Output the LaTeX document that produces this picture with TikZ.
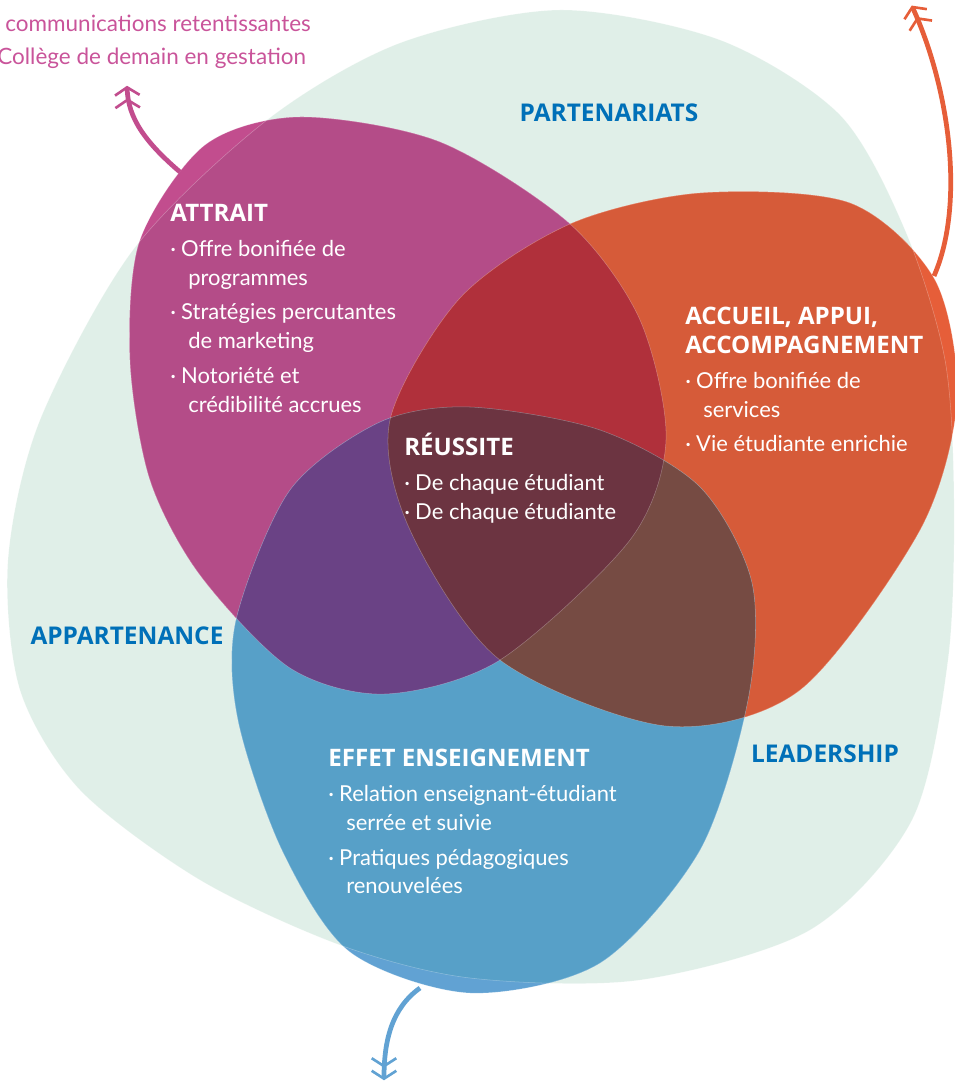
\documentclass[tikz,border=0pt]{standalone}
\usepackage{fontspec}
\setmainfont{Lato}
\newfontfamily\titrefont{Open Sans}
\usepackage{tikz}
\usetikzlibrary{arrows.meta}
\definecolor{fond}{HTML}{E0EFE8}
\definecolor{mag}{HTML}{B44C88}
\definecolor{magV}{HTML}{C24D8E}
\definecolor{ora}{HTML}{D65B39}
\definecolor{oraV}{HTML}{E65E39}
\definecolor{ble}{HTML}{57A0C8}
\definecolor{bleV}{HTML}{61A2D3}
\definecolor{rou}{HTML}{B0303B}
\definecolor{vio}{HTML}{6A4285}
\definecolor{bru}{HTML}{764B43}
\definecolor{cen}{HTML}{6C3441}
\definecolor{bleuaxe}{HTML}{0070B8}
\definecolor{rose}{HTML}{C9549A}
% contours des formes (en pixels, y vers le bas)
\newcommand\fVert{plot[smooth cycle] coordinates {(267,120) (400,43) (560,10) (720,40) (840,115) (905,230) (945,360) (954,500) (948,660) (912,820) (810,930) (640,980) (470,978) (340,945) (200,880) (80,790) (20,690) (8,560) (40,420) (133,250)}}
\newcommand\fAttrait{plot[smooth cycle] coordinates {(300,117) (440,142) (570,224) (640,320) (666,440) (630,540) (500,660) (385,694) (290,668) (200,575) (150,480) (130,360) (140,240) (205,145)}}
\newcommand\fAccueil{plot[smooth cycle] coordinates {(570,224) (700,193) (850,203) (935,280) (957,400) (920,530) (800,690) (666,726) (500,660) (410,530) (390,420) (460,298)}}
\newcommand\fEffet{plot[smooth cycle] coordinates {(470,407) (600,430) (700,487) (752,583) (748,700) (700,850) (600,963) (470,993) (350,952) (282,850) (238,720) (236,620) (290,490) (380,422)}}
\newcommand\titre[1]{{\titrefont\bfseries\fontsize{13.7}{16}\selectfont #1}}
\newcommand\puce{\makebox[6.2pt][l]{·}}
\newcommand\retrait{\hspace*{10.2pt}}
\tikzset{
  bloc/.style = {align=left, inner sep=0pt, anchor=north west, text=white,
    font=\fontsize{12.5}{16.5}\selectfont},% texte blanc dans une forme
  axe/.style = {inner sep=0pt, text=bleuaxe,
    font=\titrefont\bfseries\fontsize{13.9}{15}\selectfont},% axe transversal
  hors/.style = {inner sep=0pt, anchor=west, text=rose,
    font=\fontsize{12.8}{16}\selectfont},% texte hors schema
  contour/.style = {white, opacity=.3, line width=.3pt},% filet clair
  fleche/.style = {>={Straight Barb[length=4.5pt,width=14pt,line width=1.5pt,sep=1pt]},
    ->>, line width=2.7pt}% fleche sortante
}
\begin{document}
\begin{tikzpicture}[x=0.02cm,y=-0.02cm]
    \useasboundingbox (0,0) rectangle (954,1087);
    \fill[fond] \fVert;
    % formes, plus vives hors du fond
    \fill[magV] \fAttrait;
    \fill[oraV] \fAccueil;
    \fill[bleV] \fEffet;
    \begin{scope}
        \clip \fVert;
        \fill[mag] \fAttrait;
        \fill[ora] \fAccueil;
        \fill[ble] \fEffet;
    \end{scope}
    % intersections
    \begin{scope}
        \clip \fAttrait;
        \fill[rou] \fAccueil;
        \fill[vio] \fEffet;
    \end{scope}
    \begin{scope}
        \clip \fAccueil;
        \fill[bru] \fEffet;
        \clip \fAttrait;
        \fill[cen] \fEffet;
    \end{scope}
    \draw[contour] \fVert;
    \draw[contour] \fAttrait;
    \draw[contour] \fAccueil;
    \draw[contour] \fEffet;
    % fleches
    \coordinate (m_dep) at (180,172);
    \coordinate (m_fin) at (127,84);
    \coordinate (o_dep) at (934,276);
    \coordinate (o_fin) at (911,4);
    \coordinate (b_dep) at (420,988);
    \coordinate (b_fin) at (384,1082);
    \draw[fleche, magV] (m_dep) .. controls (145,142) and (128,118) .. (m_fin);
    \draw[fleche, oraV] (o_dep) .. controls (965,205) and (950,90) .. (o_fin);
    \draw[fleche, bleV] (b_dep) .. controls (392,1008) and (384,1040) .. (b_fin);
    % textes
    \node[hors] (comm) at (5,23) {communications retentissantes};
    \node[hors] (college) at (-3,58) {Collège de demain en gestation};
    \node[axe] (partenariats) at (609,113) {PARTENARIATS};
    \node[axe] (appartenance) at (127,636) {APPARTENANCE};
    \node[axe] (leadership) at (825,754) {LEADERSHIP};
    \node[bloc] (attrait) at (170,204) {\titre{ATTRAIT}\\[3.4pt]
        \puce Offre bonifiée de\\ \retrait programmes\\[3pt]
        \puce Stratégies percutantes\\ \retrait de marketing\\[3pt]
        \puce Notoriété et\\ \retrait crédibilité accrues};
    \node[bloc] (accueil) at (685,307) {\titre{ACCUEIL, APPUI,}\\
        \titre{ACCOMPAGNEMENT}\\[3pt]
        \puce Offre bonifiée de\\ \retrait services\\[3pt]
        \puce Vie étudiante enrichie};
    \node[bloc] (reussite) at (404,433) {\titre{RÉUSSITE}\\[3.4pt]
        \puce De chaque étudiant\\
        \puce De chaque étudiante};
    \node[bloc] (effet) at (328,749) {\titre{EFFET ENSEIGNEMENT}\\[3.4pt]
        \puce Relation enseignant-étudiant\\ \retrait serrée et suivie\\[3pt]
        \puce Pratiques pédagogiques\\ \retrait renouvelées};
\end{tikzpicture}
\end{document}
